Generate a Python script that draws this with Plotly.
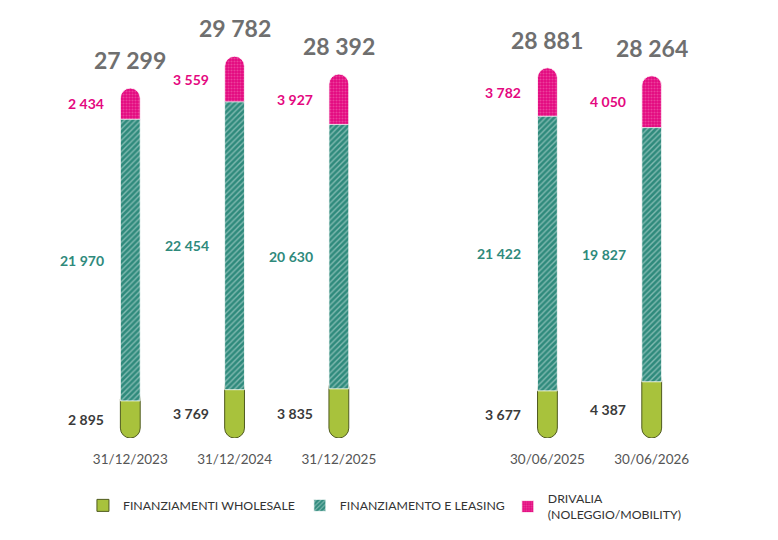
import plotly.graph_objects as go

# data
dates = ["31/12/2023", "31/12/2024", "31/12/2025", "30/06/2025", "30/06/2026"]
slots = [0, 1, 2, 4, 5]
wholesale = [2895, 3769, 3835, 3677, 4387]
leasing = [21970, 22454, 20630, 21422, 19827]
drivalia = [2434, 3559, 3927, 3782, 4050]
totals = [27299, 29782, 28392, 28881, 28264]

GREEN = "#a8c23c"
GREEN_LINE = "#4f5a1e"
TEAL = "#2f8a7c"
PINK = "#e4087f"
FONT = "Lato"
OVERLAP = 900  # hides the inner rounded end of the green and pink bars under the teal one


def fmt(v):
    return f"{v:,}".replace(",", " ")


teal_style = dict(color=TEAL, line=dict(color="white", width=0.8),
                  pattern=dict(shape="/", fgcolor="#d8ece8", bgcolor=TEAL, size=4, solidity=0.35))
pink_style = dict(color=PINK, line=dict(color="white", width=0.8),
                  pattern=dict(shape=".", fgcolor="#f27ab8", bgcolor=PINK, size=3, solidity=0.4))
green_style = dict(color=GREEN, line=dict(color=GREEN_LINE, width=1))

fig = go.Figure()

# green drawn downwards so its rounded end is at the bottom
fig.add_trace(go.Bar(
    x=slots, y=[-(w + OVERLAP) for w in wholesale], base=[w + OVERLAP for w in wholesale],
    width=0.19, showlegend=False,
    marker=dict(**green_style, cornerradius=10), hoverinfo="skip",
))
pink_base = [w + l for w, l in zip(wholesale, leasing)]
fig.add_trace(go.Bar(
    x=slots, y=[d + OVERLAP for d in drivalia], base=[b - OVERLAP for b in pink_base],
    width=0.19, showlegend=False,
    marker=dict(**pink_style, cornerradius=10), hoverinfo="skip",
))
fig.add_trace(go.Bar(
    x=slots, y=leasing, base=wholesale, width=0.19, showlegend=False,
    marker=teal_style, hoverinfo="skip",
))

# legend entries only
fig.add_trace(go.Bar(x=[None], y=[None], name="FINANZIAMENTI WHOLESALE", marker=green_style))
fig.add_trace(go.Bar(x=[None], y=[None], name="FINANZIAMENTO E LEASING", marker=teal_style))
fig.add_trace(go.Bar(x=[None], y=[None], name="DRIVALIA<br>(NOLEGGIO/MOBILITY)",
                     marker=pink_style, legend="legend2"))

annotations = []
for i, s in enumerate(slots):
    w, l, d, t = wholesale[i], leasing[i], drivalia[i], totals[i]
    annotations.append(dict(x=s, y=w + l + d, yshift=28, text=f"<b>{fmt(t)}</b>",
                            showarrow=False, font=dict(family=FONT, size=23, color="#6f6f6f")))
    annotations.append(dict(x=s, y=w / 2, xshift=-24, xanchor="right", text=f"<b>{fmt(w)}</b>",
                            showarrow=False, font=dict(family=FONT, size=14, color="#3a3a3a")))
    annotations.append(dict(x=s, y=w + l / 2, xshift=-24, xanchor="right", text=f"<b>{fmt(l)}</b>",
                            showarrow=False, font=dict(family=FONT, size=14, color="#2f8a7c")))
    annotations.append(dict(x=s, y=w + l + d / 2, xshift=-24, xanchor="right", text=f"<b>{fmt(d)}</b>",
                            showarrow=False, font=dict(family=FONT, size=14, color=PINK)))

legend_font = dict(family=FONT, size=12.3, color="#333")
fig.update_layout(
    barmode="overlay",
    width=778, height=540,
    margin=dict(l=18, r=30, t=7, b=110, autoexpand=False),
    plot_bgcolor="white", paper_bgcolor="white",
    font=dict(family=FONT, color="#333"),
    annotations=annotations,
    showlegend=True,
    legend=dict(orientation="h", x=0.078, xanchor="left", y=-0.125, yanchor="top",
                font=legend_font, traceorder="normal"),
    legend2=dict(orientation="h", x=0.66, xanchor="left", y=-0.109, yanchor="top",
                 font=legend_font),
)
fig.update_xaxes(range=[-1, 6], tickvals=slots, ticktext=dates, showgrid=False, zeroline=False,
                 showline=False, ticks="outside", ticklen=9, tickcolor="white", automargin=False,
                 tickfont=dict(family=FONT, size=13.5, color="#555"))
fig.update_yaxes(range=[0, 33000], visible=False, automargin=False)

fig.write_html("out.html")
